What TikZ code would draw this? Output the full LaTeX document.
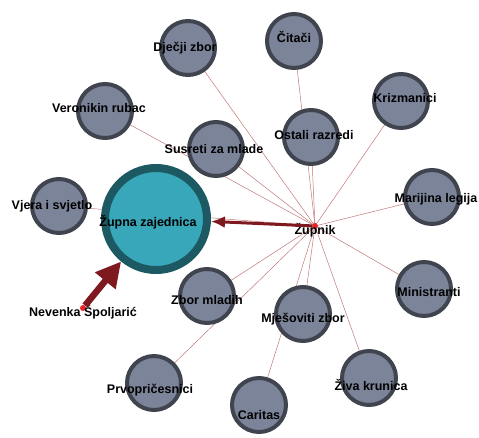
\documentclass[tikz,border=0pt]{standalone}
\usepackage{fontspec}
\setmainfont{Liberation Sans}
\usepackage{tikz}
\usetikzlibrary{arrows.meta,backgrounds}
\definecolor{NetSlate}{HTML}{7C8499}
\definecolor{NetRim}{HTML}{3F444F}
\definecolor{NetTeal}{HTML}{38A7B9}
\definecolor{NetDeep}{HTML}{1C5962}
\definecolor{NetWine}{HTML}{7E1A1F}
\definecolor{NetLink}{HTML}{C27878}
\definecolor{NetDot}{HTML}{E8262A}

\begin{document}
\begin{tikzpicture}[x=1pt,y=-1pt,
  grp/.style={circle,draw=NetRim,fill=NetSlate,line width=4pt,minimum size=54pt,inner sep=0pt},
  hub/.style={circle,draw=NetDeep,fill=NetTeal,line width=8pt,minimum size=102pt,inner sep=0pt},
  person/.style={circle,fill=NetDot,minimum size=6pt,inner sep=0pt},
  lbl/.style={font=\fontsize{12.5}{14}\selectfont\bfseries,text=black,inner sep=0pt},
  tie/.style={draw=NetLink,line width=0.5pt},
  flow/.style={draw=NetWine},
]
\useasboundingbox (0,0) rectangle (479,437);

% groups round the parish priest
\node[grp,label={[lbl,xshift=-3pt]center:Dječji zbor}] (djecji) at (188,48) {};
\node[grp,label={[lbl,yshift=4pt]center:Čitači}] (citaci) at (294,41) {};
\node[grp,label={[lbl,xshift=4pt,yshift=3pt]center:Krizmanici}] (krizmanici) at (401,101) {};
\node[grp,label={[lbl,xshift=-6pt,yshift=3pt]center:Veronikin rubac}] (veronikin) at (105,111) {};
\node[grp,label={[lbl,xshift=3pt,yshift=2pt]center:Ostali razredi}] (ostali) at (311,137) {};
\node[grp,label={[lbl,xshift=-2pt]center:Susreti za mlade}] (susreti) at (216,149) {};
\node[grp,label={[lbl,xshift=4pt,yshift=-2pt]center:Marijina legija}] (marijina) at (432,197) {};
\node[grp,label={[lbl,xshift=-7pt]center:Vjera i svjetlo}] (vjera) at (59,206) {};
\node[grp,label={[lbl,xshift=5pt,yshift=-3pt]center:Ministranti}] (ministranti) at (424,289) {};
\node[grp,label={[lbl,yshift=-4pt]center:Zbor mladih}] (zbormladih) at (207,296) {};
\node[grp,label={[lbl,yshift=-5pt]center:Mješoviti zbor}] (mjesoviti) at (303,314) {};
\node[grp,label={[lbl,xshift=2pt,yshift=-7pt]center:Živa krunica}] (krunica) at (369,378) {};
\node[grp,label={[lbl,xshift=-4pt,yshift=-7pt]center:Prvopričesnici}] (prvo) at (154,383) {};
\node[grp,label={[lbl,yshift=-10pt]center:Caritas}] (caritas) at (259,405) {};

\node[hub,label={[lbl,xshift=-8pt,yshift=-3pt]center:Župna zajednica}] (zajednica) at (156,219) {};

\node[person,label={[lbl,yshift=-4pt]center:Župnik}] (zupnik) at (315,226) {};
\node[person,label={[lbl,yshift=-4pt]center:Nevenka Špoljarić}] (nevenka) at (83,308) {};

% thin links
\begin{scope}[on background layer]
\foreach \g in {djecji,citaci,krizmanici,veronikin,ostali,susreti,marijina,vjera,
                ministranti,zbormladih,mjesoviti,krunica,prvo,caritas}
  \draw[tie] (zupnik.center) -- (\g.center);
\end{scope}

% weighted ties
\draw[flow,line width=3pt,-{Latex[length=14pt,width=12pt]}] (zupnik) -- (zajednica);
\draw[flow,line width=6.5pt,-{Triangle[length=25pt,width=25pt]}] (nevenka) -- (zajednica);
\end{tikzpicture}
\end{document}
